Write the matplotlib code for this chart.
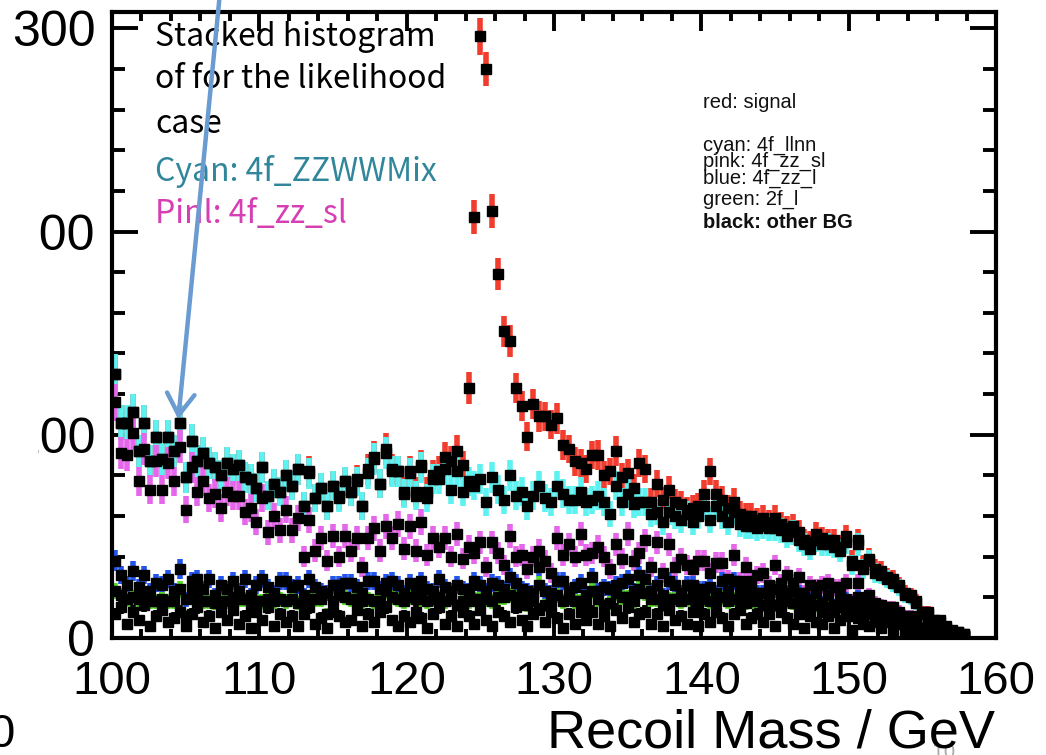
import numpy as np
import matplotlib
matplotlib.use("Agg")
import matplotlib.pyplot as plt
from matplotlib.patches import FancyArrowPatch, Rectangle
from matplotlib.ticker import MultipleLocator

# 150 bins of 0.4 GeV between 100 and 160 GeV
bin_edges = np.linspace(100, 160, 151)

# per-sample contributions (events / bin)
other_bg = [
    12, 15, 7, 13, 9, 16, 6, 11, 14, 8,
    10, 13, 6, 12, 15, 8, 11, 5, 13, 9,
    14, 7, 11, 5, 13, 9, 15, 6, 12, 8,
    11, 6, 12, 15, 7, 10, 5, 13, 11, 8,
    9, 14, 6, 12, 8, 13, 15, 9, 6, 11,
    8, 13, 10, 5, 12, 15, 7, 11, 6, 13,
    11, 7, 14, 9, 6, 13, 11, 8, 15, 9,
    6, 12, 14, 8, 13, 10, 5, 12, 7, 13,
    9, 13, 7, 11, 6, 14, 10, 15, 8, 12,
    13, 7, 12, 6, 14, 9, 11, 7, 13, 6,
    12, 8, 13, 10, 6, 12, 14, 7, 10, 12,
    8, 12, 6, 13, 10, 7, 12, 5, 11, 8,
    7, 11, 5, 9, 11, 4, 10, 7, 6, 8,
    5, 8, 4, 7, 3, 6, 4, 2, 4, 1,
    3, 1, 2, 1, 1, 0, 0, 0, 0, 0]

f2_l = [
    11, 6, 12, 7, 10, 4, 12, 7, 5, 10,
    8, 11, 5, 12, 4, 10, 7, 12, 5, 9,
    6, 12, 8, 10, 5, 9, 4, 12, 7, 10,
    8, 11, 5, 4, 12, 9, 7, 5, 10, 12,
    10, 5, 12, 7, 10, 5, 8, 11, 13, 7,
    12, 6, 9, 13, 7, 5, 11, 8, 10, 5,
    7, 12, 5, 10, 12, 7, 9, 13, 5, 10,
    10, 6, 12, 8, 5, 11, 13, 7, 11, 5,
    7, 10, 12, 5, 11, 8, 10, 5, 10, 12,
    9, 12, 7, 10, 5, 10, 7, 12, 8, 10,
    7, 10, 5, 10, 12, 7, 5, 10, 8, 6,
    8, 5, 10, 4, 8, 10, 6, 8, 4, 8,
    6, 4, 8, 6, 3, 7, 5, 4, 6, 4,
    4, 3, 5, 2, 4, 2, 3, 1, 2, 1,
    1, 1, 0, 1, 0, 0, 0, 0, 0, 0]

f4_zz_l = [
    15, 10, 7, 13, 6, 11, 5, 9, 7, 11,
    5, 10, 8, 4, 10, 6, 11, 4, 8, 6,
    8, 4, 10, 6, 8, 11, 6, 4, 9, 10,
    6, 9, 4, 10, 6, 4, 10, 8, 5, 7,
    8, 6, 4, 9, 10, 6, 4, 8, 7, 4,
    7, 4, 9, 6, 4, 9, 7, 4, 10, 6,
    5, 9, 7, 4, 9, 6, 4, 9, 7, 5,
    7, 4, 9, 7, 4, 7, 10, 4, 7, 9,
    5, 7, 4, 9, 7, 4, 7, 9, 5, 7,
    7, 4, 7, 5, 9, 7, 4, 7, 5, 8,
    5, 7, 4, 8, 5, 9, 4, 7, 5, 4,
    6, 4, 8, 5, 4, 6, 4, 6, 4, 6,
    4, 6, 3, 5, 5, 3, 5, 3, 4, 2,
    4, 2, 3, 3, 2, 2, 2, 1, 2, 1,
    1, 1, 0, 0, 0, 0, 0, 0, 0, 0]

f4_zz_sl = [
    78, 60, 64, 68, 52, 62, 50, 60, 47, 57,
    54, 60, 44, 56, 43, 53, 40, 50, 38, 48,
    42, 47, 33, 43, 31, 40, 27, 38, 25, 35,
    28, 33, 19, 29, 18, 26, 16, 24, 14, 23,
    16, 24, 13, 21, 26, 19, 28, 21, 30, 22,
    28, 20, 29, 17, 26, 16, 24, 17, 25, 15,
    22, 14, 21, 12, 20, 16, 12, 20, 13, 17,
    11, 18, 8, 15, 10, 21, 13, 23, 15, 24,
    20, 12, 22, 15, 10, 20, 12, 22, 15, 11,
    19, 12, 21, 11, 18, 9, 17, 10, 8, 14,
    14, 7, 15, 9, 6, 13, 5, 11, 5, 9,
    10, 5, 12, 5, 9, 4, 8, 3, 7, 3,
    9, 6, 9, 5, 8, 4, 7, 3, 5, 3,
    3, 2, 3, 1, 2, 1, 1, 1, 0, 1,
    1, 0, 0, 0, 0, 0, 0, 0, 0, 0]

f4_llnn = [
    14, 15, 16, 10, 15, 13, 14, 12, 15, 13,
    15, 12, 16, 13, 15, 14, 17, 13, 16, 14,
    13, 15, 17, 14, 17, 15, 18, 16, 19, 17,
    22, 24, 25, 23, 26, 25, 27, 25, 29, 27,
    29, 28, 30, 32, 34, 33, 36, 33, 26, 27,
    26, 27, 27, 28, 29, 33, 34, 33, 31, 33,
    32, 33, 31, 32, 32, 31, 32, 30, 30, 31,
    31, 30, 32, 31, 35, 26, 30, 22, 28, 21,
    26, 26, 25, 27, 27, 29, 28, 20, 28, 25,
    19, 26, 15, 25, 16, 25, 19, 25, 23, 22,
    27, 26, 28, 23, 28, 21, 28, 20, 27, 23,
    23, 28, 18, 26, 19, 25, 18, 24, 18, 23,
    20, 19, 20, 18, 20, 18, 19, 17, 17, 15,
    15, 14, 12, 12, 10, 9, 7, 7, 4, 4,
    2, 2, 1, 1, 1, 0, 0, 0, 0, 0]

signal = [
    0, 0, 0, 0, 0, 0, 0, 0, 0, 0,
    0, 0, 0, 0, 0, 0, 0, 0, 0, 0,
    0, 0, 0, 0, 0, 0, 0, 0, 0, 0,
    0, 0, 0, 1, 0, 0, 0, 0, 1, 0,
    0, 1, 0, 2, 1, 0, 2, 1, 0, 1,
    1, 2, 1, 3, 2, 4, 6, 14, 10, 13,
    46, 132, 218, 213, 131, 106, 83, 66, 53, 42,
    34, 45, 34, 40, 38, 33, 24, 25, 19, 14,
    16, 22, 20, 13, 21, 17, 12, 10, 8, 19,
    16, 6, 14, 11, 11, 7, 8, 2, 7, 5,
    6, 24, 6, 8, 7, 5, 5, 5, 5, 4,
    4, 3, 5, 3, 4, 3, 4, 2, 3, 3,
    3, 2, 3, 2, 3, 2, 2, 2, 1, 2,
    2, 1, 2, 1, 1, 1, 1, 1, 1, 1,
    1, 1, 1, 0, 0, 0, 0, 0, 0, 0]

samples = [other_bg, f2_l, f4_zz_l, f4_zz_sl, f4_llnn, signal]
# mean event weight of each sample (sets the size of the error bars)
event_weight = [0.7, 0.7, 0.7, 0.7, 0.7, 0.12]
colors = ["black", "#55dd22", "#2255ee", "#e566ea", "#5cf2f2", "#f23c2e"]

centers = 0.5 * (bin_edges[:-1] + bin_edges[1:])
half_w = 0.5 * (bin_edges[1] - bin_edges[0])
counts = np.array(samples, dtype=float)
stacked = np.cumsum(counts, axis=0)
stacked_err = np.sqrt(np.cumsum(counts * np.array(event_weight)[:, None], axis=0))

fig = plt.figure(figsize=(10.46, 7.55), dpi=100)
ax = fig.add_axes([0.1071, 0.155, 0.8451, 0.8291])

# THStack style: the top sum first, lower sums drawn over it
for level, err, col in zip(stacked[::-1], stacked_err[::-1], colors[::-1]):
    m = level > 0
    ax.errorbar(centers[m], level[m], yerr=err[m], xerr=half_w, fmt="s",
                color="black", ms=7, mec="black", ecolor=col,
                elinewidth=4, capsize=0)

ax.set_xlim(100, 160)
ax.set_ylim(0, 308)
ax.xaxis.set_major_locator(MultipleLocator(10))
ax.xaxis.set_minor_locator(MultipleLocator(2))
ax.yaxis.set_major_locator(MultipleLocator(100))
ax.yaxis.set_minor_locator(MultipleLocator(20))
for s in ax.spines.values():
    s.set_linewidth(3)
ax.tick_params(which="both", direction="in", top=True, right=True, width=2.8)
ax.tick_params(axis="x", which="major", length=14, pad=16, labelsize=34)
ax.tick_params(axis="x", which="minor", length=6.5)
ax.tick_params(axis="y", which="major", length=19, pad=12, labelsize=36)
ax.tick_params(axis="y", which="minor", length=9.5)
for lab in ax.get_xticklabels() + ax.get_yticklabels():
    lab.set_family(["Liberation Sans", "DejaVu Sans"])

# cover from the slide that cuts the left part of some labels
fig.patches.append(Rectangle((0, 1 - 460 / 755), 38 / 1046, 255 / 755,
                             transform=fig.transFigure, facecolor="white",
                             edgecolor="none", zorder=5))

fig.text(944 / 1046, 1 - 752 / 755, "10", color="#aaaaaa", fontsize=14,
         ha="center", va="center", zorder=1)
fig.text(995 / 1046, 1 - 733 / 755, "Recoil Mass / GeV", fontsize=39,
         ha="right", va="center", zorder=2,
         family=["Liberation Sans", "DejaVu Sans"])
fig.text(14 / 1046, 1 - 735 / 755, "0", fontsize=34, ha="right", va="center",
         family=["Liberation Sans", "DejaVu Sans"])

# sample legend written inside the frame
leg_lines = [("red: signal", 103, "normal"), ("cyan: 4f_llnn", 145, "normal"),
             ("pink: 4f_zz_sl", 161, "normal"), ("blue: 4f_zz_l", 178, "normal"),
             ("green: 2f_l", 199, "normal"), ("black: other BG", 223, "bold")]
for txt, ypix, wt in leg_lines:
    fig.text(703 / 1046, 1 - ypix / 755, txt, fontsize=14.5, color="#111111",
             ha="left", va="center", weight=wt,
             family=["Liberation Sans", "DejaVu Sans"])

# slide annotation
note = [("Stacked histogram", 37, "black"), ("of for the likelihood", 79, "black"),
        ("case", 124, "black"), ("Cyan: 4f_ZZWWMix", 171, "#31869b"),
        ("Pinl: 4f_zz_sl", 214, "#d63fb4")]
for txt, ypix, col in note:
    fig.text(155 / 1046, 1 - ypix / 755, txt, fontsize=23, color=col,
             ha="left", va="center", zorder=6,
             family=["Noto Sans CJK JP", "DejaVu Sans"])

arrow = FancyArrowPatch((220 / 1046, 1.01), (178 / 1046, 1 - 422 / 755),
                        transform=fig.transFigure,
                        arrowstyle="->,head_length=0.7,head_width=0.45",
                        mutation_scale=22, color="#6a9bd1", lw=3.2, zorder=7)
fig.patches.append(arrow)

fig.savefig("out.png", dpi=100)
